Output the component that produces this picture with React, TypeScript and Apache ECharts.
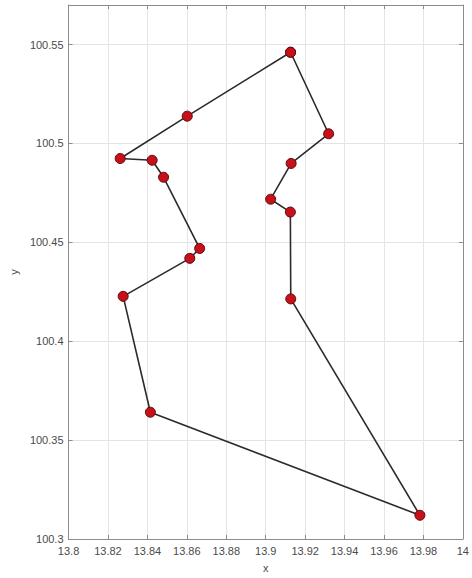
import React, { useEffect, useRef } from "react";
import * as echarts from "echarts";

// Polygon vertices (in drawing order; the path closes back to the first point)
const xValues = [
  13.9126, 13.9319, 13.9129, 13.9025, 13.9125, 13.9127, 13.9782, 13.8415,
  13.8277, 13.8615, 13.8665, 13.8482, 13.8424, 13.8262, 13.8602,
];
const yValues = [
  100.5461, 100.5049, 100.4899, 100.4718, 100.4653, 100.4214, 100.312, 100.3641,
  100.4227, 100.4419, 100.4469, 100.4829, 100.4915, 100.4924, 100.5138,
];

const xAxisRange = { min: 13.8, max: 14, interval: 0.02 };
const yAxisRange = { min: 100.3, max: 100.57, interval: 0.05 };

const FONT = "Liberation Sans, Arial, Helvetica, sans-serif";
const AXIS_COLOR = "#8c8c8c";
const LABEL_COLOR = "#4a4a4a";
const GRID_COLOR = "#e4e4e4";

export default function App() {
  const ref = useRef<HTMLDivElement>(null);

  useEffect(() => {
    if (!ref.current) return;
    const chart = echarts.init(ref.current, undefined, { renderer: "svg" });

    const pts: [number, number][] = xValues.map((x, i) => [x, yValues[i]]);
    const closed = [...pts, pts[0]];

    const baseAxisLine = { show: true, lineStyle: { color: AXIS_COLOR, width: 1 } };
    const tick = { show: true, inside: true, length: 4, lineStyle: { color: AXIS_COLOR } };

    chart.setOption({
      animation: false,
      backgroundColor: "#ffffff",
      grid: { left: 67, right: 5, top: 5, bottom: 34, containLabel: false },
      xAxis: [
        {
          type: "value",
          ...xAxisRange,
          axisLine: baseAxisLine,
          axisTick: tick,
          splitLine: { show: true, lineStyle: { color: GRID_COLOR, width: 1 } },
          axisLabel: { color: LABEL_COLOR, fontSize: 11, fontFamily: FONT, margin: 6 },
          name: "x",
          nameLocation: "middle",
          nameGap: 23,
          nameTextStyle: { color: LABEL_COLOR, fontSize: 11, fontFamily: FONT },
        },
        {
          type: "value",
          position: "top",
          ...xAxisRange,
          axisLine: baseAxisLine,
          axisTick: tick,
          splitLine: { show: false },
          axisLabel: { show: false },
        },
      ],
      yAxis: [
        {
          type: "value",
          ...yAxisRange,
          axisLine: baseAxisLine,
          axisTick: tick,
          splitLine: { show: true, lineStyle: { color: GRID_COLOR, width: 1 } },
          axisLabel: {
            color: LABEL_COLOR,
            fontSize: 11,
            fontFamily: FONT,
            margin: 5,
            showMaxLabel: false,
          },
          name: "y",
          nameLocation: "middle",
          nameGap: 44,
          nameTextStyle: { color: LABEL_COLOR, fontSize: 11, fontFamily: FONT },
        },
        {
          type: "value",
          position: "right",
          ...yAxisRange,
          axisLine: baseAxisLine,
          axisTick: tick,
          splitLine: { show: false },
          axisLabel: { show: false },
        },
      ],
      series: [
        {
          type: "line",
          data: closed,
          xAxisIndex: 0,
          yAxisIndex: 0,
          symbol: "circle",
          symbolSize: 10,
          showAllSymbol: true,
          lineStyle: { color: "#2b2b2b", width: 1.6 },
          itemStyle: { color: "#c8101a", borderColor: "#5a0a0a", borderWidth: 1 },
          emphasis: { disabled: true },
          z: 3,
        },
      ],
    });

    return () => chart.dispose();
  }, []);

  return (
    <div
      ref={ref}
      style={{ position: "absolute", left: 0, top: 0, width: 472, height: 578 }}
    />
  );
}
